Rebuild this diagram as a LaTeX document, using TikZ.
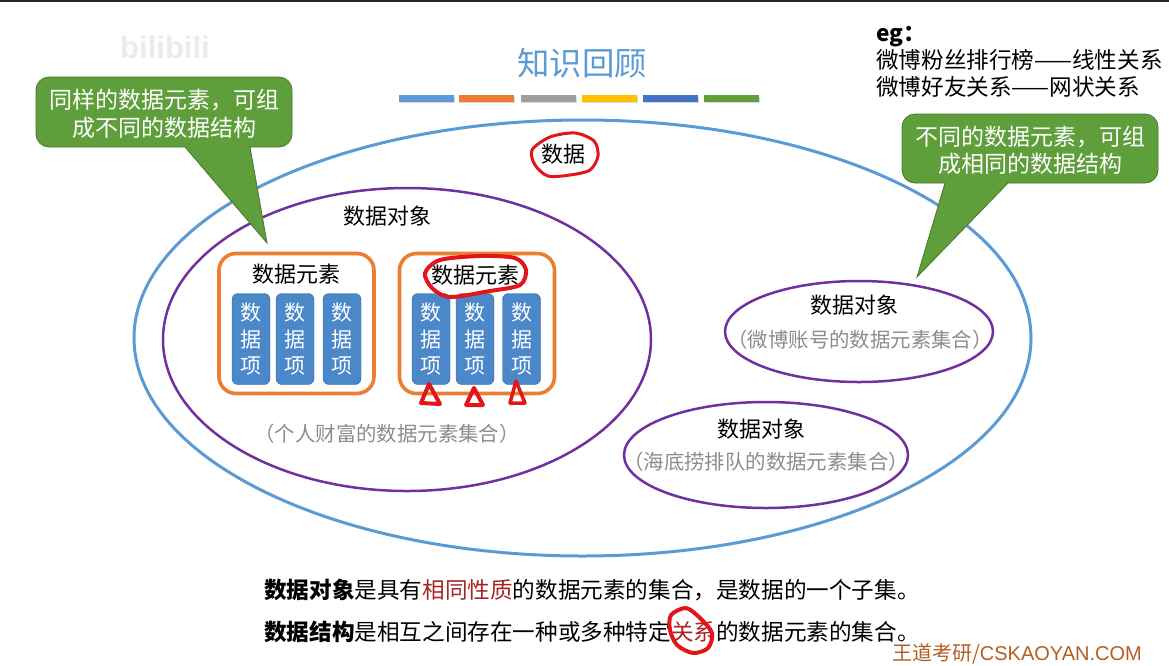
\documentclass[tikz,border=0pt]{standalone}
\usepackage{fontspec}
\setmainfont{Noto Sans CJK SC}
\newfontfamily\latinfont{Liberation Sans}
\usetikzlibrary{shapes.geometric}
\definecolor{outerblue}{HTML}{5B9BD5}
\definecolor{setpurple}{HTML}{7030A0}
\definecolor{boxorange}{HTML}{ED7D31}
\definecolor{itemblue}{HTML}{4A88C9}
\definecolor{calloutgreen}{HTML}{5F9F3B}
\definecolor{penred}{HTML}{E0161B}
\definecolor{keyred}{HTML}{A82424}
\begin{document}
\begin{tikzpicture}[x=1pt,y=-1pt]
        \tikzstyle{label}=[font=\fontsize{22}{27}\selectfont,inner sep=0pt]
        \tikzstyle{lines}=[font=\fontsize{22.6}{27}\selectfont,inner sep=0pt]
        \tikzstyle{setnote}=[font=\fontsize{20.4}{24}\selectfont,text=black!45,inner sep=0pt]
        \tikzstyle{dataset}=[draw=setpurple,line width=2.5pt,ellipse,inner sep=0pt]
        \tikzstyle{element}=[draw=boxorange,line width=3.6pt,rounded corners=17pt,minimum width=155pt,minimum height=140pt]
        \tikzstyle{item}=[draw=itemblue!70!black,fill=itemblue,rounded corners=6pt,minimum width=38pt,minimum height=91pt,inner sep=0pt,text=white,align=center,font=\fontsize{21}{26.5}\selectfont]
        \tikzstyle{callout}=[draw=calloutgreen!75!black,fill=calloutgreen,line width=0.8pt]
        \tikzstyle{calltext}=[text=white,align=center,inner sep=0pt,font=\fontsize{23}{27.5}\selectfont]
        \tikzstyle{redpen}=[draw=penred,line width=3.5pt,line join=round,line cap=round]
        \useasboundingbox (0,0) rectangle (1169,665);
        \fill[black!85] (0,0) rectangle (1169,2);
        \node[text=black!8,font=\fontsize{31}{31}\selectfont\bfseries\latinfont,inner sep=0pt] (mark) at (165,47) {bilibili};
        \node[text=outerblue,font=\fontsize{32.4}{36}\selectfont,inner sep=0pt] (title) at (582,63) {知识回顾};
        % colour bars under the title
        \foreach \xa/\col in {399/5B9BD5,459/ED7D31,521/9E9E9E,582/FFC000,643/4472C4,704/5FA03C} {
            \definecolor{barcol}{HTML}{\col}
            \fill[black!15] (\xa+1,97) rectangle (\xa+56,103);
            \fill[barcol] (\xa,95) rectangle (\xa+55,102);
        }
        \node[draw=outerblue,line width=3pt,ellipse,minimum width=897pt,minimum height=436pt,inner sep=0pt] (data) at (582.5,338) {};
        \node[dataset,minimum width=488pt,minimum height=303pt] (objA) at (407,339.5) {};
        \node[dataset,minimum width=268pt,minimum height=101pt] (objB) at (859,331.5) {};
        \node[dataset,minimum width=284pt,minimum height=106pt] (objC) at (766,455) {};
        \node[label] (dataText) at (563,154) {数据};
        \node[label] (objAText) at (387,216) {数据对象};
        \node[label] (objBText) at (854,305) {数据对象};
        \node[label] (objCText) at (761,429) {数据对象};
        \node[setnote] (noteA) at (387,434) {（个人财富的数据元素集合）};
        \node[setnote] (noteB) at (860,340) {（微博账号的数据元素集合）};
        \node[setnote] (noteC) at (766,462) {（海底捞排队的数据元素集合）};
        \node[element] (elemA) at (296.5,323.5) {};
        \node[element] (elemB) at (477,323.5) {};
        \node[label] (elemAText) at (296,274) {数据元素};
        \node[label] (elemBText) at (475,275) {数据元素};
        \foreach \xa/\name in {251/a,295/b,342/c,431/d,475/e,521.5/f} {
            \node[item] (item\name) at (\xa,339) {数\\据\\项};
        }
        % callouts
        \draw[callout] (49,77) [rounded corners=13pt] -- (292,77) -- (292,147) -- (262,147) [sharp corners] -- (250,147) -- (267,243) -- (185,147) -- (170,147) [rounded corners=13pt] -- (36,147) -- (36,77) -- (49,77);
        \node[calltext] (callLeft) at (164,114) {同样的数据元素，可组\\成不同的数据结构};
        \draw[callout] (915,114) [rounded corners=13pt] -- (1158,114) -- (1158,183) -- (1020,183) [sharp corners] -- (1008,183) -- (917,277) -- (945,183) -- (930,183) [rounded corners=13pt] -- (902,183) -- (902,114) -- (915,114);
        \node[calltext] (callRight) at (1030,150.5) {不同的数据元素，可组\\成相同的数据结构};
        \node[lines,anchor=north west,align=left] (example) at (876,26) {{\bfseries eg：}\\微博粉丝排行榜——线性关系\\微博好友关系——网状关系};
        % bottom lines
        \node[lines,anchor=west] (lineObj) at (264,590) {\textbf{数据对象}是具有\textcolor{keyred}{相同性质}的数据元素的集合，是数据的一个子集。};
        \node[lines,anchor=west] (lineStruct) at (264,632) {\textbf{数据结构}是相互之间存在一种或多种特定\textcolor{keyred}{关系}的数据元素的集合。};
        \node[anchor=east,text=boxorange!75!black,font=\fontsize{20}{20}\selectfont,inner sep=0pt] (brand) at (1142,654) {王道考研/{\latinfont CSKAOYAN.COM}};
        % pen marks
        \draw[redpen,line width=3pt] plot[smooth cycle] coordinates {(550,137) (575,133) (594,141) (598,156) (590,170) (570,175) (548,176) (535,165) (532,150)};
        \draw[redpen,line width=4pt] plot[smooth cycle] coordinates {(440,260) (480,256) (515,258) (526,270) (520,285) (490,291) (450,297) (432,288) (425,273)};
        \draw[redpen,line width=4pt] plot[smooth cycle] coordinates {(686,608) (700,618) (712,633) (708,648) (693,653) (677,645) (670,630) (671,615)};
        \draw[redpen,line width=4pt] (429,384) -- (421,403) -- (440,404) -- cycle;
        \draw[redpen,line width=4pt] (474,388) -- (466,405) -- (483,405) -- cycle;
        \draw[redpen] (516,381) -- (510,403) -- (525,403) -- cycle;
    \end{tikzpicture}
\end{document}
